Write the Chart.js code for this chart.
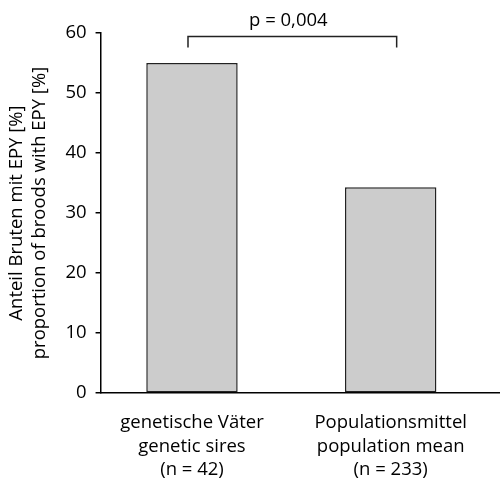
<!DOCTYPE html>
<html>
<head>
<meta charset="utf-8">
<script src="https://cdn.jsdelivr.net/npm/chart.js@4"></script>
<style>
  html, body { margin: 0; padding: 0; background: #fff; }
  #wrap { width: 500px; height: 481px; }
</style>
</head>
<body>
<div id="wrap"><canvas id="c" width="500" height="481"></canvas></div>
<script>
// Category labels (German / English / sample size)
const categories = [
  ['genetische Väter', 'genetic sires', '(n = 42)'],
  ['Populationsmittel', 'population mean', '(n = 233)']
];
// Share of broods with extra-pair young, in percent
const values = [55.0, 34.3];
// Category positions on the x axis
const positions = [1, 2];
// Y axis ticks
const yTicks = [0, 10, 20, 30, 40, 50, 60];
// Significance bracket: ends (x) and heights (top, tip) in data units
const bracketX = [0.98, 2.03];
const bracketY = [59.4, 57.6];
const pLabel = 'p = 0,004';
const pLabelY = 62.1;

const FONT = "'Open Sans', 'DejaVu Sans', sans-serif";
const FS = 18.5;

const bracketPlugin = {
  id: 'bracket',
  afterDraw(chart) {
    const { ctx, scales: { x, y } } = chart;
    const x0 = x.getPixelForValue(bracketX[0]);
    const x1 = x.getPixelForValue(bracketX[1]);
    const yt = y.getPixelForValue(bracketY[0]);
    const yb = y.getPixelForValue(bracketY[1]);
    ctx.save();
    ctx.strokeStyle = '#222';
    ctx.lineWidth = 1.5;
    ctx.beginPath();
    ctx.moveTo(x0, yb);
    ctx.lineTo(x0, yt);
    ctx.lineTo(x1, yt);
    ctx.lineTo(x1, yb);
    ctx.stroke();
    ctx.fillStyle = '#000';
    ctx.font = FS + 'px ' + FONT;
    ctx.textAlign = 'center';
    ctx.textBaseline = 'middle';
    ctx.fillText(pLabel, (x0 + x1) / 2 - 4, y.getPixelForValue(pLabelY));
    ctx.restore();
  }
};

new Chart(document.getElementById('c'), {
  type: 'bar',
  data: {
    datasets: [{
      data: positions.map((p, i) => ({ x: p, y: values[i] })),
      backgroundColor: '#cccccc',
      borderColor: '#222222',
      borderWidth: 1.5,
      borderSkipped: false,
      barPercentage: 0.46,
      categoryPercentage: 1
    }]
  },
  options: {
    responsive: false,
    animation: false,
    devicePixelRatio: 1,
    layout: { padding: { top: 33, left: 6, right: 0, bottom: 0 } },
    plugins: { legend: { display: false }, tooltip: { enabled: false } },
    scales: {
      x: {
        type: 'linear',
        offset: false,
        min: 0.54,
        max: 2.55,
        afterBuildTicks(scale) { scale.ticks = positions.map(v => ({ value: v })); },
        afterFit(scale) { scale.height = 88; },
        grid: { display: false, offset: false },
        border: { display: true, color: '#000', width: 1.5 },
        ticks: {
          color: '#000',
          font: { family: FONT, size: FS, lineHeight: 1.27 },
          padding: 10,
          maxRotation: 0,
          autoSkip: false,
          callback: (v) => categories[positions.indexOf(v)] || ''
        }
      },
      y: {
        min: 0,
        max: 60,
        afterBuildTicks(scale) { scale.ticks = yTicks.map(v => ({ value: v })); },
        grid: { drawOnChartArea: false, drawTicks: true, tickLength: 5, color: '#000', lineWidth: 1.5 },
        border: { display: true, color: '#000', width: 1.5 },
        ticks: { color: '#000', font: { family: FONT, size: FS }, padding: 9 },
        title: {
          display: true,
          text: ['Anteil Bruten mit EPY [%]', 'proportion of broods with EPY [%]'],
          color: '#000',
          font: { family: FONT, size: FS, lineHeight: 1.2 },
          padding: { top: 0, bottom: 6 }
        }
      }
    }
  },
  plugins: [bracketPlugin]
});
</script>
</body>
</html>
